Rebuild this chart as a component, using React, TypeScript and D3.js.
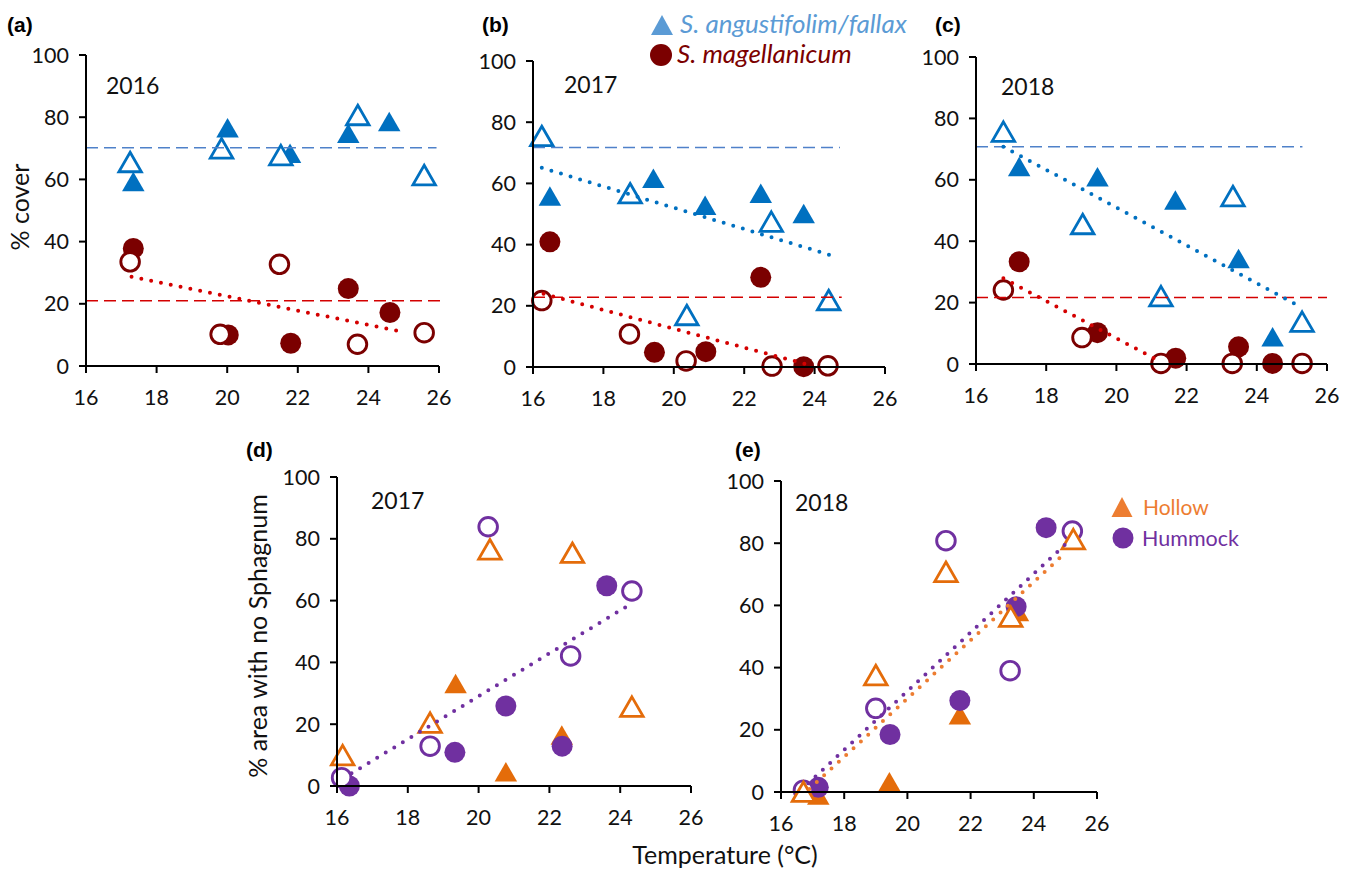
import React from "react";
import * as d3 from "d3";

const W = 1352;
const H = 869;
const FONT = "Lato, 'Open Sans', sans-serif";

type Pt = [number, number];

const xTicks = [16, 18, 20, 22, 24, 26];
const yTicks = [0, 20, 40, 60, 80, 100];

// (a) 2016 - % cover
const a_angOpen: Pt[] = [[17.25, 65.6], [19.84, 70.0], [21.52, 67.8], [23.7, 80.7], [25.58, 61.4]];
const a_angFilled: Pt[] = [[17.34, 59.3], [20.01, 76.6], [21.78, 68.4], [23.43, 74.8], [24.59, 78.6]];
const a_magOpen: Pt[] = [[17.25, 33.5], [19.8, 10.2], [21.48, 32.7], [23.69, 7.0], [25.58, 10.7]];
const a_magFilled: Pt[] = [[17.34, 37.8], [20.03, 10.0], [21.8, 7.3], [23.43, 24.9], [24.61, 17.2]];
const a_magTrend: Pt[] = [[17.29, 28.7], [25.04, 10.8]];
const a_angMean: Pt[] = [[16, 70.2], [25.93, 70.2]];
const a_magMean: Pt[] = [[16, 21.0], [26.05, 21.0]];

// (b) 2017
const b_angOpen: Pt[] = [[16.25, 75.5], [18.76, 56.8], [20.37, 17.0], [22.77, 47.5], [24.4, 21.9]];
const b_angFilled: Pt[] = [[16.48, 55.9], [19.42, 61.7], [20.89, 52.9], [22.47, 56.8], [23.69, 50.2]];
const b_magOpen: Pt[] = [[16.25, 21.7], [18.74, 10.8], [20.35, 2.0], [22.79, 0.3], [24.38, 0.4]];
const b_magFilled: Pt[] = [[16.48, 40.9], [19.45, 4.8], [20.91, 5.0], [22.47, 29.3], [23.69, 0.1]];
const b_angTrend: Pt[] = [[16.25, 65.1], [24.44, 36.6]];
const b_magTrend: Pt[] = [[16.3, 23.9], [23.8, 0.8]];
const b_angMean: Pt[] = [[16, 71.7], [24.72, 71.7]];
const b_magMean: Pt[] = [[16, 22.8], [24.77, 22.8]];

// (c) 2018
const c_angOpen: Pt[] = [[16.78, 75.7], [19.04, 45.6], [21.27, 22.1], [23.32, 54.7], [25.29, 13.8]];
const c_angFilled: Pt[] = [[17.23, 64.3], [19.46, 61.0], [21.68, 53.4], [23.48, 34.4], [24.45, 8.9]];
const c_magOpen: Pt[] = [[16.78, 24.1], [19.02, 8.6], [21.27, 0.2], [23.3, 0.2], [25.29, 0.2]];
const c_magFilled: Pt[] = [[17.23, 33.3], [19.46, 10.2], [21.69, 1.9], [23.48, 5.6], [24.45, 0.2]];
const c_angTrend: Pt[] = [[16.78, 70.8], [25.1, 19.5]];
const c_magTrend: Pt[] = [[16.78, 27.9], [21.25, 0.8]];
const c_angMean: Pt[] = [[16, 70.8], [25.3, 70.8]];
const c_magMean: Pt[] = [[16, 21.7], [26, 21.7]];

// (d) 2017 - % area with no Sphagnum
const d_holOpen: Pt[] = [[16.16, 10.0], [18.63, 20.5], [20.32, 76.6], [22.65, 75.5], [24.33, 25.7]];
const d_holFilled: Pt[] = [[19.35, 33.2], [20.77, 4.6], [22.35, 16.5]];
const d_humOpen: Pt[] = [[16.13, 2.7], [18.63, 12.9], [20.27, 83.9], [22.6, 42.1], [24.33, 63.1]];
const d_humFilled: Pt[] = [[16.35, 0], [19.33, 10.9], [20.77, 25.9], [22.36, 12.9], [23.62, 64.8]];
const d_humTrend: Pt[] = [[16.41, 4.1], [24.14, 57.8]];

// (e) 2018
const e_holOpen: Pt[] = [[16.71, 0.1], [19.0, 37.6], [21.22, 70.8], [23.27, 56.4], [25.25, 81.3]];
const e_holFilled: Pt[] = [[17.18, -1], [19.43, 3.3], [21.66, 24.8], [23.5, 58.0]];
const e_humOpen: Pt[] = [[16.71, 0.6], [19.0, 26.9], [21.22, 80.8], [23.25, 39.0], [25.22, 83.9]];
const e_humFilled: Pt[] = [[17.18, 1.5], [19.45, 18.5], [21.66, 29.4], [23.44, 59.6], [24.39, 85.0]];
const e_holTrend: Pt[] = [[16.9, 1.0], [25.04, 77.3]];
const e_humTrend: Pt[] = [[16.86, 2.8], [25.04, 80.0]];

const BLUE = "#0070c0";
const BLUE_LIGHT = "#5b9bd5";
const BLUE_DASH = "#4f81c9";
const DARKRED = "#7b0000";
const RED = "#d40000";
const ORANGE = "#e46c0a";
const ORANGE_LIGHT = "#ed7d31";
const PURPLE = "#7030a0";

type Series = { pts: Pt[]; shape: "tri" | "circ"; open: boolean; color: string };
type Line = { pts: Pt[]; color: string; kind: "dot" | "dash" };

type Panel = {
  id: string;
  x: [number, number];
  y: [number, number];
  year: string;
  yearPos: [number, number];
  label: string;
  labelPos: [number, number];
  series: Series[];
  lines: Line[];
};

const panels: Panel[] = [
  {
    id: "a", x: [86, 439], y: [366, 55], year: "2016", yearPos: [106, 94], label: "(a)", labelPos: [7, 32],
    series: [
      { pts: a_angFilled, shape: "tri", open: false, color: BLUE },
      { pts: a_angOpen, shape: "tri", open: true, color: BLUE },
      { pts: a_magFilled, shape: "circ", open: false, color: DARKRED },
      { pts: a_magOpen, shape: "circ", open: true, color: DARKRED },
    ],
    lines: [
      { pts: a_angMean, color: BLUE_DASH, kind: "dash" },
      { pts: a_magMean, color: RED, kind: "dash" },
      { pts: a_magTrend, color: RED, kind: "dot" },
    ],
  },
  {
    id: "b", x: [533, 885], y: [367, 61], year: "2017", yearPos: [564, 93], label: "(b)", labelPos: [482, 32],
    series: [
      { pts: b_angFilled, shape: "tri", open: false, color: BLUE },
      { pts: b_angOpen, shape: "tri", open: true, color: BLUE },
      { pts: b_magFilled, shape: "circ", open: false, color: DARKRED },
      { pts: b_magOpen, shape: "circ", open: true, color: DARKRED },
    ],
    lines: [
      { pts: b_angMean, color: BLUE_DASH, kind: "dash" },
      { pts: b_magMean, color: RED, kind: "dash" },
      { pts: b_angTrend, color: BLUE, kind: "dot" },
      { pts: b_magTrend, color: RED, kind: "dot" },
    ],
  },
  {
    id: "c", x: [976, 1327], y: [364, 57], year: "2018", yearPos: [1001, 95], label: "(c)", labelPos: [935, 32],
    series: [
      { pts: c_angFilled, shape: "tri", open: false, color: BLUE },
      { pts: c_angOpen, shape: "tri", open: true, color: BLUE },
      { pts: c_magFilled, shape: "circ", open: false, color: DARKRED },
      { pts: c_magOpen, shape: "circ", open: true, color: DARKRED },
    ],
    lines: [
      { pts: c_angMean, color: BLUE_DASH, kind: "dash" },
      { pts: c_magMean, color: RED, kind: "dash" },
      { pts: c_angTrend, color: BLUE, kind: "dot" },
      { pts: c_magTrend, color: RED, kind: "dot" },
    ],
  },
  {
    id: "d", x: [337, 691], y: [786, 477], year: "2017", yearPos: [371, 509], label: "(d)", labelPos: [246, 457],
    series: [
      { pts: d_holFilled, shape: "tri", open: false, color: ORANGE },
      { pts: d_humFilled, shape: "circ", open: false, color: PURPLE },
      { pts: d_humOpen, shape: "circ", open: true, color: PURPLE },
      { pts: d_holOpen, shape: "tri", open: true, color: ORANGE },
    ],
    lines: [{ pts: d_humTrend, color: PURPLE, kind: "dot" }],
  },
  {
    id: "e", x: [781, 1097], y: [792, 481], year: "2018", yearPos: [795, 511], label: "(e)", labelPos: [735, 457],
    series: [
      { pts: e_holFilled, shape: "tri", open: false, color: ORANGE },
      { pts: e_humFilled, shape: "circ", open: false, color: PURPLE },
      { pts: e_humOpen, shape: "circ", open: true, color: PURPLE },
      { pts: e_holOpen, shape: "tri", open: true, color: ORANGE },
    ],
    lines: [
      { pts: e_holTrend, color: ORANGE_LIGHT, kind: "dot" },
      { pts: e_humTrend, color: PURPLE, kind: "dot" },
    ],
  },
];

function triPath(w: number, h: number) {
  return `M0,${-h / 2}L${w / 2},${h / 2}L${-w / 2},${h / 2}Z`;
}

function Marker({ shape, open, color, x, y }: { shape: string; open: boolean; color: string; x: number; y: number }) {
  if (shape === "tri") {
    return open ? (
      <path d={triPath(22.5, 19.5)} transform={`translate(${x},${y})`} fill="white" stroke={color} strokeWidth={2.8} />
    ) : (
      <path d={triPath(22.5, 19.5)} transform={`translate(${x},${y})`} fill={color} />
    );
  }
  return open ? (
    <circle cx={x} cy={y} r={9.3} fill="white" stroke={color} strokeWidth={2.9} />
  ) : (
    <circle cx={x} cy={y} r={10.5} fill={color} />
  );
}

function PanelView({ p }: { p: Panel }) {
  const xs = d3.scaleLinear().domain([16, 26]).range(p.x);
  const ys = d3.scaleLinear().domain([0, 100]).range(p.y);
  const line = d3.line<Pt>().x((d) => xs(d[0])).y((d) => ys(d[1]));
  return (
    <g>
      <text x={p.labelPos[0]} y={p.labelPos[1]} fontFamily="'Liberation Sans', Arial, sans-serif" fontWeight="bold" fontSize={21}>
        {p.label}
      </text>
      <text x={p.yearPos[0]} y={p.yearPos[1]} fontFamily={FONT} fontSize={23} fill="#111">
        {p.year}
      </text>
      {p.series.map((s, i) => (
        <g key={i}>
          {s.pts.map((d, j) => (
            <Marker key={j} shape={s.shape} open={s.open} color={s.color} x={xs(d[0])} y={ys(d[1])} />
          ))}
        </g>
      ))}
      {p.lines.map((l, i) =>
        l.kind === "dash" ? (
          <path key={i} d={line(l.pts) || ""} stroke={l.color} strokeWidth={1.5} strokeDasharray="12 6" fill="none" />
        ) : (
          <path key={i} d={line(l.pts) || ""} stroke={l.color} strokeWidth={4} strokeDasharray="0 10" strokeLinecap="round" fill="none" />
        )
      )}
      <line x1={p.x[0]} x2={p.x[1]} y1={p.y[0]} y2={p.y[0]} stroke="#000" strokeWidth={2} />
      <line x1={p.x[0]} x2={p.x[0]} y1={p.y[0]} y2={p.y[1]} stroke="#000" strokeWidth={2} />
      {xTicks.map((t) => (
        <g key={t}>
          <line x1={xs(t)} x2={xs(t)} y1={p.y[0]} y2={p.y[0] + 7} stroke="#000" strokeWidth={2} />
          <text x={xs(t)} y={p.y[0] + 39} textAnchor="middle" fontFamily={FONT} fontSize={21.5} fill="#111">
            {t}
          </text>
        </g>
      ))}
      {yTicks.map((t) => (
        <g key={t}>
          <line x1={p.x[0] - 7} x2={p.x[0]} y1={ys(t)} y2={ys(t)} stroke="#000" strokeWidth={2} />
          <text x={p.x[0] - 17} y={ys(t) + 7.5} textAnchor="end" fontFamily={FONT} fontSize={21.5} fill="#111">
            {t}
          </text>
        </g>
      ))}
    </g>
  );
}

export default function App() {
  return (
    <div style={{ position: "fixed", left: 0, top: 0 }}>
      <svg width={W} height={H} style={{ display: "block", background: "white" }}>
        {panels.map((p) => (
          <PanelView key={p.id} p={p} />
        ))}
        {/* legend top */}
        <path d={triPath(22, 20)} transform="translate(662,25)" fill={BLUE_LIGHT} />
        <text x={680} y={33} fontFamily={FONT} fontStyle="italic" fontSize={26} fill={BLUE_LIGHT}>
          S. angustifolim/fallax
        </text>
        <circle cx={661} cy={55} r={11} fill={DARKRED} />
        <text x={677} y={63} fontFamily={FONT} fontStyle="italic" fontSize={26} fill={DARKRED}>
          S. magellanicum
        </text>
        {/* legend e */}
        <path d={triPath(21, 20)} transform="translate(1122,507)" fill={ORANGE_LIGHT} />
        <text x={1143} y={515} fontFamily={FONT} fontSize={21} fill={ORANGE_LIGHT}>
          Hollow
        </text>
        <circle cx={1123} cy={538} r={10.5} fill={PURPLE} />
        <text x={1142} y={546} fontFamily={FONT} fontSize={21.5} fill={PURPLE}>
          Hummock
        </text>
        {/* axis titles */}
        <text transform="translate(29,207) rotate(-90)" textAnchor="middle" fontFamily={FONT} fontSize={25} fill="#111">
          % cover
        </text>
        <text transform="translate(267,636) rotate(-90)" textAnchor="middle" fontFamily={FONT} fontSize={25} fill="#111">
          % area with no Sphagnum
        </text>
        <text x={725} y={864} textAnchor="middle" fontFamily={FONT} fontSize={25} fill="#111">
          Temperature (°C)
        </text>
      </svg>
    </div>
  );
}
